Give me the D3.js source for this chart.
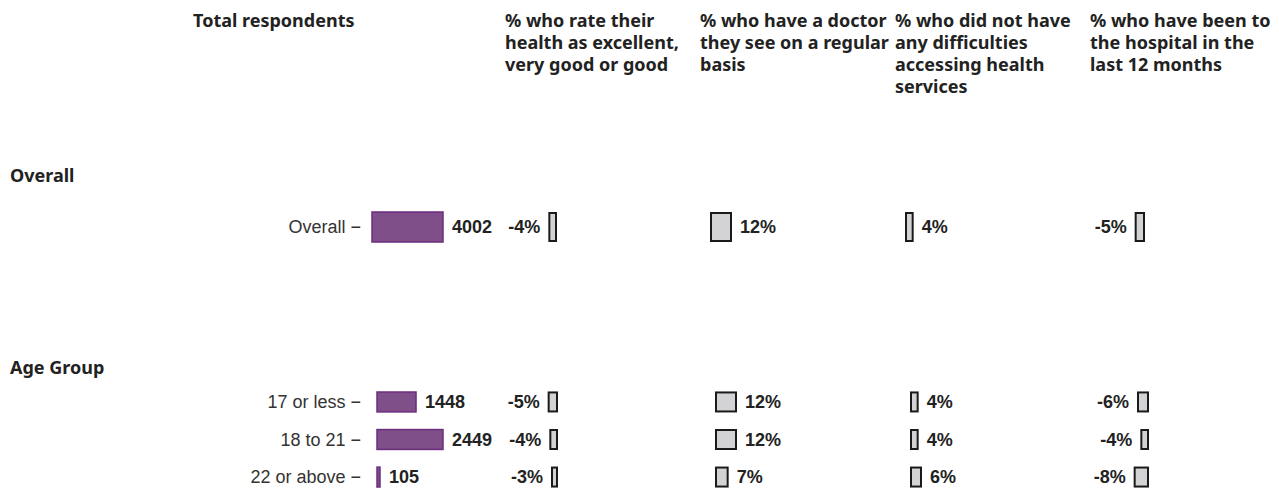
<!DOCTYPE html>
<html>
<head>
<meta charset="utf-8">
<script src="https://cdn.jsdelivr.net/npm/d3@7"></script>
<style>
  body { margin: 0; background: #fff; }
  text { font-family: "Liberation Sans", Arial, sans-serif; }
  .head { font-family: "Noto Sans", "Liberation Sans", sans-serif; font-weight: bold; font-size: 18px; fill: #222; }
</style>
</head>
<body>
<svg id="chart" width="1279" height="488"></svg>
<script>
// data
const groups = ['Overall', 'Age Group'];
const overallRows = ['Overall'];
const ageRows = ['17 or less', '18 to 21', '22 or above'];
const respondentsOverall = [4002];
const respondentsAge = [1448, 2449, 105];
const measures = [
  ['% who rate their', 'health as excellent,', 'very good or good'],
  ['% who have a doctor', 'they see on a regular', 'basis'],
  ['% who did not have', 'any difficulties', 'accessing health', 'services'],
  ['% who have been to', 'the hospital in the', 'last 12 months']
];
const healthOverall = [-4];
const healthAge = [-5, -4, -3];
const doctorOverall = [12];
const doctorAge = [12, 12, 7];
const accessOverall = [4];
const accessAge = [4, 4, 6];
const hospitalOverall = [-5];
const hospitalAge = [-6, -4, -8];

const svg = d3.select('#chart');

// header row
svg.append('text')
  .attr('class', 'head')
  .attr('x', 193).attr('y', 27)
  .text('Total respondents');

const headerX = [505, 700, 895, 1090];
measures.forEach((lines, i) => {
  const t = svg.append('text')
    .attr('class', 'head')
    .attr('x', headerX[i]).attr('y', 27);
  t.selectAll('tspan')
    .data(lines)
    .enter()
    .append('tspan')
    .attr('x', headerX[i])
    .attr('dy', (d, j) => j === 0 ? 0 : 22)
    .text(d => d);
});

// pane setup
const panes = [
  {
    name: groups[0], labelY: 182,
    rows: overallRows, resp: respondentsOverall,
    pcts: [healthOverall, doctorOverall, accessOverall, hospitalOverall],
    y: d3.scaleBand().domain(overallRows).range([212, 242]).padding(0),
    barW: 71, barX: 372, shift: [-1, -5, -5, -4]
  },
  {
    name: groups[1], labelY: 374,
    rows: ageRows, resp: respondentsAge,
    pcts: [healthAge, doctorAge, accessAge, hospitalAge],
    y: d3.scaleBand().domain(ageRows).range([392, 487]).paddingInner(0.47).paddingOuter(0),
    barW: 66, barX: 377, shift: [0, 0, 0, 0]
  }
];

// zero line of each percent column (age pane)
const zeroX = [557, 716, 911, 1148];
// width of a grey bar by the absolute percent
const pctW = d3.scaleLinear().domain([0, 12]).range([0, 20]);

panes.forEach(p => {
  svg.append('text')
    .attr('class', 'head')
    .attr('x', 10).attr('y', p.labelY)
    .text(p.name);

  const x = d3.scaleLinear()
    .domain([0, d3.max(p.resp)])
    .range([p.barX, p.barX + p.barW]);

  const rowData = p.rows.map((r, i) => ({ row: r, n: p.resp[i] }));
  const g = svg.append('g');

  // row labels with tick dash
  g.selectAll('.rowlabel')
    .data(rowData)
    .enter()
    .append('text')
    .attr('x', 361)
    .attr('y', d => p.y(d.row) + p.y.bandwidth() / 2)
    .attr('dy', '0.35em')
    .attr('text-anchor', 'end')
    .attr('font-size', 18)
    .attr('fill', '#333')
    .text(d => d.row + ' \u2212');

  // respondent bars
  g.selectAll('.resp')
    .data(rowData)
    .enter()
    .append('rect')
    .attr('x', x(0))
    .attr('y', d => p.y(d.row))
    .attr('width', d => Math.max(x(d.n) - x(0), 3))
    .attr('height', p.y.bandwidth())
    .attr('fill', '#7e4f88')
    .attr('stroke', '#6c2d80')
    .attr('stroke-width', 1.5);

  g.selectAll('.respval')
    .data(rowData)
    .enter()
    .append('text')
    .attr('x', d => Math.max(x(d.n), x(0) + 3) + 9)
    .attr('y', d => p.y(d.row) + p.y.bandwidth() / 2)
    .attr('dy', '0.35em')
    .attr('font-size', 18).attr('font-weight', 'bold')
    .attr('fill', '#222')
    .text(d => d.n);

  // percent columns
  p.pcts.forEach((vals, c) => {
    const z = zeroX[c] + p.shift[c];
    const cd = p.rows.map((r, i) => ({ row: r, v: vals[i] }));
    const col = svg.append('g');
    const h = p.rows.length === 1 ? 28 : 19;

    col.selectAll('rect')
      .data(cd)
      .enter()
      .append('rect')
      .attr('x', d => d.v < 0 ? z - pctW(-d.v) : z)
      .attr('y', d => p.y(d.row) + p.y.bandwidth() / 2 - h / 2)
      .attr('width', d => pctW(Math.abs(d.v)))
      .attr('height', h)
      .attr('fill', '#d3d3d5')
      .attr('stroke', '#1a1a1a')
      .attr('stroke-width', 2);

    col.selectAll('text')
      .data(cd)
      .enter()
      .append('text')
      .attr('x', d => d.v < 0 ? z - pctW(-d.v) - 9 : z + pctW(d.v) + 9)
      .attr('y', d => p.y(d.row) + p.y.bandwidth() / 2)
      .attr('dy', '0.35em')
      .attr('text-anchor', d => d.v < 0 ? 'end' : 'start')
      .attr('font-size', 18).attr('font-weight', 'bold')
      .attr('fill', '#222')
      .text(d => d.v + '%');
  });
});
</script>
</body>
</html>
